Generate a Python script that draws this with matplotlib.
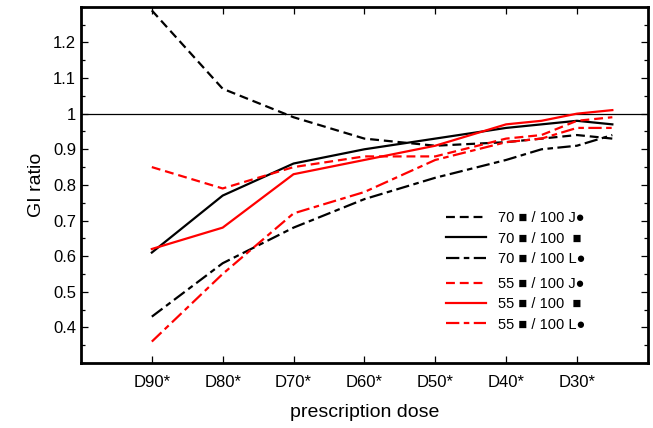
import matplotlib
matplotlib.use('Agg')
import matplotlib.pyplot as plt
from matplotlib.ticker import MultipleLocator, FormatStrFormatter

plt.rcParams['font.family'] = ['Liberation Sans', 'DejaVu Sans']

# positions of the dose points (D90 ... D30, with the in-between points)
x = [1, 2, 3, 4, 5, 6, 6.5, 7, 7.5]
tick_pos = [1, 2, 3, 4, 5, 6, 7]
tick_labels = ['D90*', 'D80*', 'D70*', 'D60*', 'D50*', 'D40*', 'D30*']

gi_70_J = [1.29, 1.07, 0.99, 0.93, 0.91, 0.92, 0.93, 0.94, 0.93]
gi_70 = [0.61, 0.77, 0.86, 0.90, 0.93, 0.96, 0.97, 0.98, 0.97]
gi_70_L = [0.43, 0.58, 0.68, 0.76, 0.82, 0.87, 0.90, 0.91, 0.94]
gi_55_J = [0.85, 0.79, 0.85, 0.88, 0.88, 0.93, 0.94, 0.98, 0.99]
gi_55 = [0.62, 0.68, 0.83, 0.87, 0.91, 0.97, 0.98, 1.00, 1.01]
gi_55_L = [0.36, 0.55, 0.72, 0.78, 0.87, 0.92, 0.93, 0.96, 0.96]

fig = plt.figure(figsize=(6.53, 4.28), dpi=100)
ax = fig.add_axes([0.124, 0.152, 0.868, 0.832])

dash = (4, 2.2)
dashdot = (6, 2, 2.5, 2)
lw = 1.6

ax.axhline(1.0, color='black', lw=0.9)

h1, = ax.plot(x, gi_70_J, color='black', lw=lw, dashes=dash)
h2, = ax.plot(x, gi_70, color='black', lw=lw)
h3, = ax.plot(x, gi_70_L, color='black', lw=lw, dashes=dashdot)
h4, = ax.plot(x, gi_55_J, color='red', lw=lw, dashes=dash)
h5, = ax.plot(x, gi_55, color='red', lw=lw)
h6, = ax.plot(x, gi_55_L, color='red', lw=lw, dashes=dashdot)

ax.set_xlim(0, 8)
ax.set_ylim(0.3, 1.3)
ax.set_xticks(tick_pos)
ax.set_xticklabels(tick_labels)
ax.yaxis.set_minor_locator(MultipleLocator(0.05))
ax.yaxis.set_major_formatter(FormatStrFormatter('%g'))
ax.set_yticks([0.4, 0.5, 0.6, 0.7, 0.8, 0.9, 1.0, 1.1, 1.2])
ax.tick_params(which='both', direction='in', top=True, right=True, labelsize=12)
ax.tick_params(which='major', length=5, width=0.9)
ax.tick_params(which='minor', length=3, width=0.9)
ax.tick_params(axis='x', pad=9)
for s in ax.spines.values():
    s.set_linewidth(2)

ax.set_xlabel('prescription dose', fontsize=14, labelpad=10)
ax.set_ylabel('GI ratio', fontsize=14, labelpad=6)

leg_kw = dict(frameon=False, fontsize=10.5, handlelength=2.8, handletextpad=0.8,
              labelspacing=0.42, loc='upper left', borderaxespad=0)
leg1 = ax.legend([h1, h2, h3],
                 ['70 ■ / 100 J●', '70 ■ / 100  ■', '70 ■ / 100 L●'],
                 bbox_to_anchor=(0.633, 0.442), **leg_kw)
ax.add_artist(leg1)
ax.legend([h4, h5, h6],
          ['55 ■ / 100 J●', '55 ■ / 100  ■', '55 ■ / 100 L●'],
          bbox_to_anchor=(0.633, 0.257), **leg_kw)

fig.savefig('out.png', dpi=100)
